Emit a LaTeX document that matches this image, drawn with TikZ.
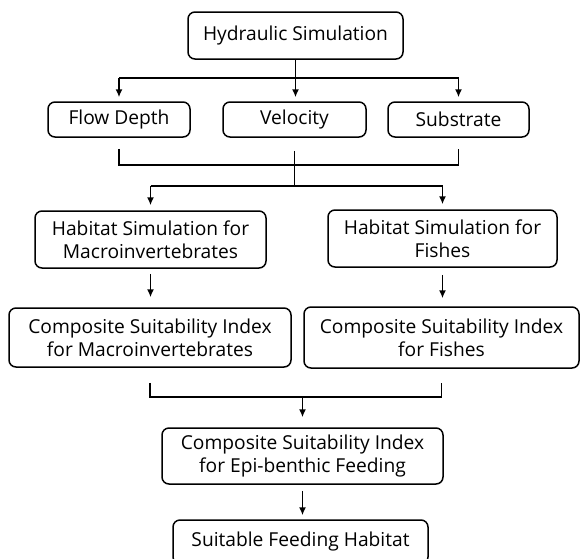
\documentclass[tikz,border=0pt]{standalone}
\usepackage{fontspec}
\setmainfont{Open Sans}
\usepackage{tikz}
\usetikzlibrary{arrows.meta, positioning, calc}
\tikzstyle{arrow} = [line width=1.5pt, -{Latex[length=8pt,width=7pt]}]
\tikzstyle{link} = [line width=1.5pt]
\tikzstyle{box} = [draw, rectangle, rounded corners=7pt, line width=1.5pt, inner sep=0pt, fill=white]

\begin{document}
\begin{tikzpicture}[x=1pt, y=-1pt, every node/.style={font=\fontsize{19.2}{23}\selectfont}, align=center]
\clip (0,0) rectangle (581,558);
% Input nodes
\node (hydro) [box, minimum width=215pt, minimum height=47pt] at (295.5,35.5) {Hydraulic Simulation};
\node (depth) [box, minimum width=142pt, minimum height=35pt] at (119,119.5) {Flow Depth};
\node (velo) [box, minimum width=143pt, minimum height=35pt] at (294.5,119.5) {Velocity};
\node (subs) [box, minimum width=141pt, minimum height=35pt] at (458.5,119.5) {Substrate};

% Habitat simulation and suitability nodes
\node (habmac) [box, minimum width=231pt, minimum height=57pt] at (150.5,239.5) {Habitat Simulation for\\Macroinvertebrates};
\node (habfish) [box, minimum width=229pt, minimum height=57pt] at (442.5,238.5) {Habitat Simulation for\\Fishes};
\node (csimac) [box, minimum width=282pt, minimum height=59pt] at (150,337.5) {Composite Suitability Index\\for Macroinvertebrates};
\node (csifish) [box, minimum width=275pt, minimum height=61pt] at (441.5,337.5) {Composite Suitability Index\\for Fishes};
\node (csiepi) [box, minimum width=281pt, minimum height=56pt] at (302.5,456) {Composite Suitability Index\\for Epi-benthic Feeding};
\node (feed) [box, minimum width=255pt, minimum height=44pt] at (300.5,542) {Suitable Feeding Habitat};

% Connectors
\coordinate (split1) at ([yshift=-18pt]hydro.south);
\draw [arrow, shorten >=4pt] (hydro.south) -- (hydro.south |- velo.north);
\draw [link] (split1 -| depth.north) -- (split1 -| subs.north);
\draw [arrow, shorten >=4pt] (split1 -| depth.north) -- (depth.north);
\draw [arrow, shorten >=4pt] (split1 -| subs.north) -- (subs.north);

\coordinate (join1) at ([yshift=-27pt]depth.south);
\coordinate (split2) at ([yshift=-48pt]velo.south);
\draw [link] ([yshift=-11pt]depth.south) -- (join1) -- (join1 -| subs.south) -- ([yshift=-11pt]subs.south);
\draw [link] ([yshift=-13pt]velo.south) -- (split2);
\draw [link] (split2 -| habmac.north) -- (split2 -| habfish.north);
\draw [arrow, shorten >=5pt] (split2 -| habmac.north) -- (habmac.north);
\draw [arrow, shorten >=5pt] (split2 -| habfish.north) -- (habfish.north);

\draw [arrow, shorten <=5pt, shorten >=10pt] (habmac.south) -- (habmac.south |- csimac.north);
\draw [arrow, shorten <=7pt, shorten >=8pt] (habfish.south) -- (habfish.south |- csifish.north);

\coordinate (join2) at ([yshift=-29pt]csimac.south);
\draw [link] ([yshift=-15pt]csimac.south) -- (join2) -- (join2 -| csifish.south) -- ([yshift=-14pt]csifish.south);
\draw [arrow, shorten >=10pt] (join2 -| csiepi.north) -- (csiepi.north);
\draw [arrow, shorten <=6pt, shorten >=4pt] (csiepi.south) -- (csiepi.south |- feed.north);
\end{tikzpicture}
\end{document}
